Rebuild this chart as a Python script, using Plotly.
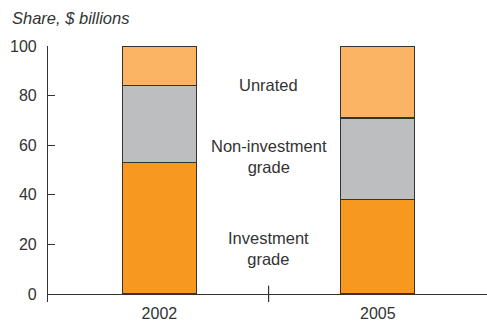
import plotly.graph_objects as go

# Share of issuance by rating, $ billions
years = ["2002", "2005"]
investment_grade = [53, 38]
non_investment_grade = [31, 33]
unrated = [16, 29]

segment_labels = ["Investment<br>grade", "Non-investment<br>grade", "Unrated"]
segment_colors = ["#F7991F", "#BDBEC0", "#FBB463"]

x_pos = list(range(len(years)))
ink = "#333333"
font_family = "Liberation Sans, Arial, sans-serif"

fig = go.Figure()
for vals, name, color in zip(
    [investment_grade, non_investment_grade, unrated], segment_labels, segment_colors
):
    fig.add_trace(
        go.Bar(
            x=x_pos,
            y=vals,
            name=name,
            width=0.338,
            marker=dict(color=color, line=dict(color=ink, width=1.2)),
            showlegend=False,
        )
    )

# Segment labels placed between the two bars, centred on each band
label_y = [18.5, 55.6, 84.3]
for text, yv in zip(segment_labels, label_y):
    fig.add_annotation(
        x=0.5, y=yv, xref="x", yref="y", text=text, showarrow=False,
        font=dict(size=16.5, color=ink, family=font_family), align="center",
    )

# Divider tick between the two categories on the x axis
fig.add_shape(
    type="line", xref="x", yref="y", x0=0.5, x1=0.5, y0=-3.4, y1=3.4,
    line=dict(color=ink, width=1.2),
)

# Axis unit caption, italic, above the plot
fig.add_annotation(
    x=-38 / 439, y=1 + 28 / 256, xref="paper", yref="paper",
    text="<i>Share, $ billions</i>",
    showarrow=False, xanchor="left", yanchor="middle",
    font=dict(size=16.5, color=ink, family=font_family),
)

fig.update_layout(
    width=487, height=323,
    margin=dict(l=48, r=0, t=46, b=21),
    barmode="stack",
    plot_bgcolor="white", paper_bgcolor="white",
    font=dict(family=font_family, color=ink, size=16),
    xaxis=dict(
        range=[-0.51, 1.5], tickmode="array", tickvals=x_pos, ticktext=years,
        showline=False, showgrid=False, zeroline=False, ticks="",
        tickfont=dict(size=16), automargin=False,
    ),
    yaxis=dict(
        range=[-3.2, 100], tickmode="array", tickvals=[0, 20, 40, 60, 80, 100],
        showline=True, linecolor=ink, linewidth=1.2, ticks="inside", ticklen=7,
        tickcolor=ink, tickwidth=1.2, showgrid=False,
        zeroline=True, zerolinecolor=ink, zerolinewidth=1.2,
        tickfont=dict(size=16), ticklabelstandoff=7, automargin=False,
    ),
)

fig.write_html("out.html")
